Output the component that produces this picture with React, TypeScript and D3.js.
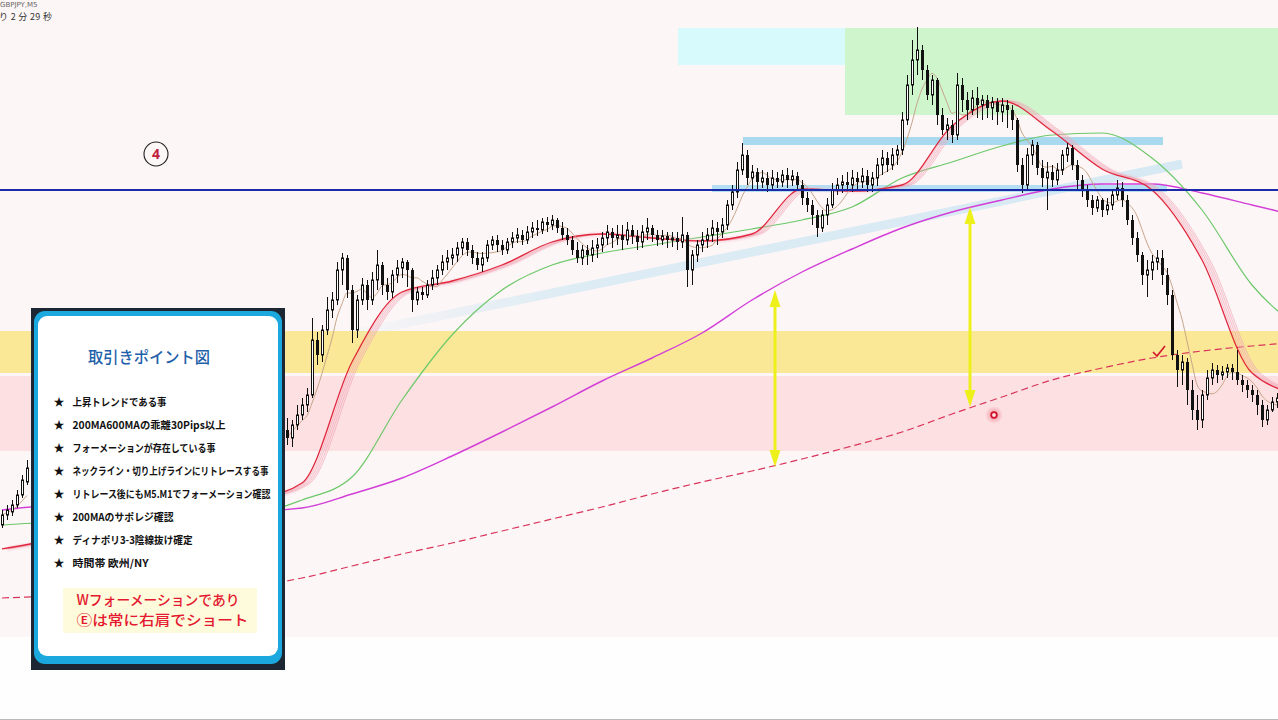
import React from 'react';
import * as d3 from 'd3';

const W = 1278;
const H = 720;

// ---- header texts ----
const SYMBOL_LABEL = 'GBPJPY,M5';
const TIMER_LABEL = 'り 2 分 29 秒';

// ---- candles [open, high, low, close] ----
const LEFT_START = 0;
const leftCandles: number[][] = [
  [141.95, 142.10, 141.92, 142.05], [142.05, 142.15, 142.00, 142.10], [142.08, 142.20, 142.04, 142.15],
  [142.15, 142.30, 142.12, 142.25], [142.25, 142.45, 142.22, 142.40], [142.38, 142.60, 142.35, 142.52],
];

const MAIN_START = 57;
const mainCandles: number[][] = [
  [142.90, 143.02, 142.75, 142.82], [142.82, 143.00, 142.73, 142.95], [142.95, 143.15, 142.90, 143.05],
  [143.05, 143.22, 143.00, 143.15], [143.15, 143.32, 143.08, 143.25], [143.25, 144.02, 143.22, 143.80],
  [143.80, 143.88, 143.55, 143.65], [143.65, 143.95, 143.58, 143.90], [143.90, 144.23, 143.85, 144.10],
  [144.10, 144.28, 144.02, 144.20], [144.20, 144.58, 144.15, 144.50], [144.50, 144.67, 144.35, 144.62],
  [144.62, 144.65, 144.22, 144.30], [144.30, 144.35, 143.77, 143.90], [143.90, 144.25, 143.82, 144.20],
  [144.20, 144.42, 144.15, 144.35], [144.35, 144.40, 144.10, 144.20], [144.20, 144.48, 144.15, 144.40],
  [144.40, 144.70, 144.30, 144.55], [144.55, 144.58, 144.25, 144.35], [144.35, 144.42, 144.20, 144.28],
  [144.28, 144.50, 144.22, 144.45], [144.45, 144.60, 144.37, 144.52], [144.52, 144.62, 144.42, 144.58],
  [144.58, 144.60, 144.33, 144.50], [144.50, 144.52, 144.08, 144.20], [144.20, 144.33, 144.15, 144.28],
  [144.28, 144.33, 144.20, 144.25], [144.25, 144.40, 144.22, 144.35], [144.35, 144.50, 144.30, 144.42],
  [144.42, 144.55, 144.35, 144.50], [144.50, 144.65, 144.45, 144.58], [144.58, 144.70, 144.50, 144.62],
  [144.62, 144.72, 144.55, 144.65], [144.65, 144.78, 144.58, 144.72], [144.72, 144.82, 144.65, 144.78],
  [144.78, 144.82, 144.64, 144.70], [144.70, 144.75, 144.56, 144.62], [144.62, 144.68, 144.50, 144.55],
  [144.55, 144.68, 144.48, 144.62], [144.62, 144.80, 144.58, 144.75], [144.75, 144.84, 144.70, 144.80],
  [144.80, 144.85, 144.68, 144.75], [144.75, 144.80, 144.65, 144.70], [144.70, 144.82, 144.66, 144.78],
  [144.78, 144.88, 144.72, 144.82], [144.82, 144.92, 144.77, 144.85], [144.85, 144.90, 144.75, 144.80],
  [144.80, 144.94, 144.76, 144.88], [144.88, 144.98, 144.82, 144.92], [144.92, 145.00, 144.84, 144.90],
  [144.90, 145.02, 144.86, 144.98], [144.98, 145.03, 144.88, 144.95], [144.95, 145.05, 144.90, 145.00],
  [145.00, 145.02, 144.87, 144.92], [144.92, 144.98, 144.80, 144.85], [144.85, 144.92, 144.75, 144.80],
  [144.80, 144.84, 144.65, 144.70], [144.70, 144.78, 144.57, 144.62], [144.62, 144.75, 144.55, 144.70],
  [144.70, 144.75, 144.55, 144.65], [144.65, 144.80, 144.58, 144.72], [144.72, 144.82, 144.62, 144.75],
  [144.75, 144.88, 144.68, 144.82], [144.82, 144.95, 144.75, 144.88], [144.88, 144.92, 144.72, 144.82],
  [144.82, 144.95, 144.75, 144.85], [144.85, 144.95, 144.70, 144.80], [144.80, 144.98, 144.75, 144.90],
  [144.90, 144.95, 144.76, 144.84], [144.84, 144.90, 144.70, 144.78], [144.78, 144.95, 144.72, 144.88],
  [144.88, 145.02, 144.80, 144.92], [144.92, 144.95, 144.78, 144.85], [144.85, 144.90, 144.74, 144.80],
  [144.80, 144.90, 144.75, 144.84], [144.84, 144.88, 144.72, 144.80], [144.80, 144.88, 144.73, 144.82],
  [144.82, 144.88, 144.70, 144.78], [144.78, 145.03, 144.72, 144.85], [144.85, 144.88, 144.33, 144.50],
  [144.50, 144.70, 144.35, 144.65], [144.65, 144.80, 144.58, 144.75], [144.75, 144.88, 144.68, 144.80],
  [144.80, 144.92, 144.72, 144.85], [144.85, 145.00, 144.78, 144.92], [144.92, 144.98, 144.75, 144.88],
  [144.88, 145.02, 144.82, 144.95], [144.95, 145.20, 144.90, 145.15], [145.15, 145.35, 145.10, 145.28],
  [145.28, 145.58, 145.22, 145.50], [145.50, 145.77, 145.45, 145.65], [145.65, 145.70, 145.35, 145.42],
  [145.42, 145.55, 145.30, 145.48], [145.48, 145.52, 145.30, 145.38], [145.38, 145.50, 145.32, 145.42],
  [145.42, 145.48, 145.28, 145.35], [145.35, 145.50, 145.30, 145.42], [145.42, 145.48, 145.32, 145.38],
  [145.38, 145.50, 145.33, 145.45], [145.45, 145.52, 145.32, 145.40], [145.40, 145.50, 145.34, 145.44],
  [145.44, 145.48, 145.30, 145.35], [145.35, 145.40, 145.15, 145.22], [145.22, 145.28, 145.08, 145.15],
  [145.15, 145.20, 144.95, 145.05], [145.05, 145.10, 144.83, 144.92], [144.92, 145.10, 144.88, 145.05],
  [145.05, 145.22, 144.95, 145.15], [145.15, 145.37, 145.12, 145.30], [145.30, 145.42, 145.25, 145.35],
  [145.35, 145.45, 145.27, 145.38], [145.38, 145.48, 145.30, 145.35], [145.35, 145.50, 145.28, 145.42],
  [145.42, 145.48, 145.30, 145.38], [145.38, 145.52, 145.32, 145.44], [145.44, 145.50, 145.28, 145.35],
  [145.35, 145.48, 145.28, 145.42], [145.42, 145.62, 145.34, 145.55], [145.55, 145.70, 145.45, 145.62],
  [145.62, 145.68, 145.48, 145.55], [145.55, 145.72, 145.50, 145.65], [145.65, 145.75, 145.55, 145.70],
  [145.70, 146.08, 145.65, 146.00], [146.00, 146.45, 145.95, 146.35], [146.35, 146.80, 146.25, 146.60],
  [146.60, 146.93, 146.45, 146.70], [146.70, 146.75, 146.40, 146.50], [146.50, 146.55, 146.20, 146.25],
  [146.25, 146.45, 146.15, 146.40], [146.40, 146.42, 145.95, 146.05], [146.05, 146.12, 145.85, 145.90],
  [145.90, 146.02, 145.80, 145.95], [145.95, 146.00, 145.77, 145.85], [145.85, 146.47, 145.80, 146.35],
  [146.35, 146.42, 146.08, 146.20], [146.20, 146.28, 146.00, 146.10], [146.10, 146.30, 146.05, 146.22],
  [146.22, 146.33, 146.02, 146.15], [146.15, 146.25, 146.00, 146.20], [146.20, 146.25, 146.02, 146.12],
  [146.12, 146.23, 146.00, 146.18], [146.18, 146.22, 145.95, 146.08], [146.08, 146.22, 145.98, 146.15],
  [146.15, 146.20, 145.92, 146.10], [146.10, 146.15, 145.90, 146.00], [146.00, 146.02, 145.48, 145.55],
  [145.55, 145.62, 145.27, 145.35], [145.35, 145.72, 145.30, 145.65], [145.65, 145.80, 145.55, 145.75],
  [145.75, 145.78, 145.45, 145.52], [145.52, 145.60, 145.33, 145.42], [145.42, 145.58, 145.10, 145.48],
  [145.48, 145.55, 145.33, 145.40], [145.40, 145.57, 145.35, 145.50], [145.50, 145.70, 145.45, 145.65],
  [145.65, 145.77, 145.58, 145.72], [145.72, 145.75, 145.50, 145.55], [145.55, 145.60, 145.30, 145.40],
  [145.40, 145.45, 145.23, 145.30], [145.30, 145.35, 145.13, 145.20], [145.20, 145.25, 145.05, 145.12],
  [145.12, 145.24, 145.08, 145.20], [145.20, 145.22, 145.03, 145.10], [145.10, 145.22, 145.05, 145.15],
  [145.15, 145.30, 145.10, 145.25], [145.25, 145.40, 145.20, 145.32], [145.32, 145.38, 145.13, 145.20],
  [145.20, 145.25, 144.95, 145.00], [145.00, 145.05, 144.75, 144.82], [144.82, 144.88, 144.58, 144.65],
  [144.65, 144.68, 144.35, 144.45], [144.45, 144.60, 144.23, 144.50], [144.50, 144.65, 144.40, 144.58],
  [144.58, 144.70, 144.50, 144.62], [144.62, 144.70, 144.35, 144.45], [144.45, 144.52, 144.15, 144.25],
  [144.25, 144.30, 143.60, 143.65], [143.65, 143.70, 143.33, 143.50], [143.50, 143.65, 143.35, 143.58],
  [143.58, 143.62, 143.15, 143.30], [143.30, 143.40, 143.00, 143.10], [143.10, 143.25, 142.90, 143.00],
  [143.00, 143.30, 142.92, 143.25], [143.25, 143.50, 143.20, 143.42], [143.42, 143.57, 143.35, 143.50],
  [143.50, 143.55, 143.37, 143.45], [143.45, 143.54, 143.40, 143.48], [143.48, 143.56, 143.42, 143.52],
  [143.52, 143.56, 143.40, 143.48], [143.48, 143.70, 143.35, 143.40], [143.40, 143.45, 143.28, 143.35],
  [143.35, 143.40, 143.22, 143.30], [143.30, 143.35, 143.18, 143.25], [143.25, 143.30, 143.05, 143.15],
  [143.15, 143.20, 142.93, 143.00], [143.00, 143.15, 142.95, 143.10], [143.10, 143.23, 143.08, 143.18],
  [143.18, 143.27, 143.12, 143.22],
];

// ---- moving averages, sampled every MA_STEP bars from bar 0 ----
const MA_STEP = 10;
const ma200 = [142.10, 142.14, 142.13, 142.11, 142.10, 142.09, 142.12, 142.26, 142.42, 142.64, 142.88, 143.13, 143.39,
  143.62, 143.87, 144.20, 144.48, 144.71, 144.92, 145.08, 145.20, 145.31, 145.36, 145.36, 145.27, 145.15, 145.03];
const ma600 = [141.22, 141.24, 141.26, 141.28, 141.31, 141.34, 141.42, 141.54, 141.66, 141.77, 141.89, 142.01, 142.13,
  142.26, 142.38, 142.49, 142.61, 142.74, 142.88, 143.06, 143.23, 143.40, 143.52, 143.62, 143.69, 143.74, 143.78];
const ma75 = [141.95, 141.98, 142.00, 142.02, 142.04, 142.06, 142.20, 142.43, 143.20, 143.85, 144.30, 144.55, 144.67,
  144.75, 144.83, 144.91, 145.00, 145.13, 145.42, 145.58, 145.74, 145.85, 145.87, 145.62, 145.10, 144.35, 143.90];
const ma20 = [141.71, 141.80, 141.90, 142.00, 142.10, 142.20, 142.37, 143.58, 144.28, 144.39, 144.55, 144.78, 144.86,
  144.82, 144.79, 144.86, 145.31, 145.29, 145.35, 145.94, 146.19, 145.89, 145.51, 145.30, 144.60, 143.47, 143.25];
const FAST_PERIOD = 6;

// ---- levels and zones ----
const necklinePrice = 145.30;
const upperBand = { from: 148.2, to: 232.2, top: 145.83, bottom: 145.75 };
const lowerBand = { from: 142, to: 233, top: 145.35, bottom: 145.28 };
const trendLine = [[71, 143.87], [236, 145.56]];
const yellowZone = { top: 143.89, bottom: 143.47 };
const pinkZone = { top: 143.44, bottom: 142.69 };
const greenZone = { from: 168.6, to: 262, top: 146.92, bottom: 146.05 };
const cyanZone = { from: 135.2, to: 168.6, top: 146.92, bottom: 146.55 };
const arrows = [
  { bar: 154.6, top: 144.30, bottom: 142.53 },
  { bar: 193.6, top: 145.13, bottom: 143.13 },
];
const redDot = { bar: 198.4, price: 143.05 };
const checkMark = { bar: 231.2, price: 143.68 };
const stepLabel = { bar: 30.8, price: 145.66, text: '4' };

// ---- info panel ----
const panelTitle = '取引きポイント図';
const checklist = [
  '上昇トレンドである事',
  '200MA600MAの乖離30Pips以上',
  'フォーメーションが存在している事',
  'ネックライン・切り上げラインにリトレースする事',
  'リトレース後にもM5.M1でフォーメーション確認',
  '200MAのサポレジ確認',
  'ディナポリ3-3陰線抜け確定',
  '時間帯 欧州/NY',
];
const noteLines = ['Wフォーメーションであり', 'Ⓔは常に右肩でショート'];

// layout (pixel widths of the panel lines)
const checklistWidths = [94, 153, 143, 196, 198, 101, 120, 76];
const noteWidths = [163, 172];

const JP = "'Noto Sans CJK JP', 'Noto Sans', sans-serif";

export default function App() {
  const x = d3.scaleLinear().domain([0, 255.2]).range([2, 1278]);
  const y = d3.scaleLinear().domain([140, 147.2]).range([720, 0]);

  const line = d3
    .line<number[]>()
    .x((d) => x(d[0]))
    .y((d) => y(d[1]))
    .curve(d3.curveMonotoneX);
  const pts = (arr: number[]) => arr.map((v, i) => [i * MA_STEP, v]);

  const candles = [
    ...leftCandles.map((c, i) => ({ k: LEFT_START + i, o: c[0], h: c[1], l: c[2], c: c[3] })),
    ...mainCandles.map((c, i) => ({ k: MAIN_START + i, o: c[0], h: c[1], l: c[2], c: c[3] })),
  ];

  const fast = (arr: number[][], start: number) =>
    arr.map((_, i) => [
      start + i,
      d3.mean(arr.slice(Math.max(0, i - FAST_PERIOD + 1), i + 1), (d) => d[3]) as number,
    ]);

  const rectOf = (z: { from?: number; to?: number; top: number; bottom: number }) => ({
    x: z.from !== undefined ? x(z.from) : 0,
    width: z.from !== undefined ? x(z.to as number) - x(z.from) : W,
    y: y(z.top),
    height: y(z.bottom) - y(z.top),
  });

  const ribbonD = line(pts(ma20)) || '';

  return (
    <svg
      width={W}
      height={H}
      style={{ position: 'absolute', left: 0, top: 0, display: 'block' }}
      xmlns="http://www.w3.org/2000/svg"
    >
      <defs>
        <linearGradient id="tlGrad" gradientUnits="userSpaceOnUse" x1={x(trendLine[0][0])} x2={x(trendLine[1][0])} y1="0" y2="0">
          <stop offset="0" stopColor="#c9e5f3" stopOpacity="0.1" />
          <stop offset="0.25" stopColor="#c9e5f3" stopOpacity="0.6" />
          <stop offset="1" stopColor="#c9e5f3" stopOpacity="0.75" />
        </linearGradient>
        <radialGradient id="dotGlow">
          <stop offset="0" stopColor="#f27d90" stopOpacity="0.85" />
          <stop offset="1" stopColor="#f27d90" stopOpacity="0" />
        </radialGradient>
      </defs>

      {/* background */}
      <rect x={0} y={0} width={W} height={H} fill="#fefefe" />
      <rect x={0} y={0} width={W} height={637} fill="#fdf6f6" />
      <line x1={0} x2={W} y1={719.5} y2={719.5} stroke="#b8b8b8" strokeWidth={1} />

      {/* zones */}
      <rect {...rectOf(yellowZone)} fill="#fbe896" />
      <rect {...rectOf(pinkZone)} fill="#fde0e1" />
      <rect {...rectOf(greenZone)} fill="#cff5cd" />
      <rect {...rectOf(cyanZone)} fill="#d7fafc" />

      {/* rising trend line band */}
      <line
        x1={x(trendLine[0][0])}
        y1={y(trendLine[0][1])}
        x2={x(trendLine[1][0])}
        y2={y(trendLine[1][1])}
        stroke="url(#tlGrad)"
        strokeWidth={9}
      />

      {/* horizontal light blue bands */}
      <rect {...rectOf(upperBand)} fill="#a9d9ef" />
      <rect {...rectOf(lowerBand)} fill="#b4def2" />

      {/* moving averages */}
      <path d={line(pts(ma600)) || ''} fill="none" stroke="#d8345a" strokeWidth={1.2} strokeDasharray="7 4" />
      <path d={line(pts(ma200)) || ''} fill="none" stroke="#d23ed8" strokeWidth={1.4} />
      <path d={line(pts(ma75)) || ''} fill="none" stroke="#6cc86a" strokeWidth={1.2} />
      {[2, 4, 6, 8].map((dx) => (
        <path key={dx} d={ribbonD} transform={`translate(${dx},0)`} fill="none" stroke="#ef9aab" strokeWidth={1} strokeOpacity={0.55} />
      ))}
      <path d={ribbonD} transform="translate(5,0)" fill="none" stroke="#f6c0cb" strokeWidth={6} strokeOpacity={0.2} />
      <path d={ribbonD} fill="none" stroke="#e0283e" strokeWidth={1.3} />

      {/* fast MA */}
      <path d={line(fast(leftCandles, LEFT_START)) || ''} fill="none" stroke="#c6a58a" strokeWidth={1} />
      <path d={line(fast(mainCandles, MAIN_START)) || ''} fill="none" stroke="#c6a58a" strokeWidth={1} />

      {/* candles */}
      <g>
        {candles.map((d) => {
          const cx = Math.round(x(d.k)) + 0.5;
          const top = y(Math.max(d.o, d.c));
          const bot = y(Math.min(d.o, d.c));
          const bull = d.c > d.o;
          return (
            <g key={d.k}>
              <line x1={cx} x2={cx} y1={y(d.h)} y2={y(d.l)} stroke="#111" strokeWidth={1} />
              {bull ? (
                <rect x={cx - 1} y={top} width={2} height={Math.max(1, bot - top)} fill="#ffffff" stroke="#111" strokeWidth={1} />
              ) : (
                <rect x={cx - 1.5} y={top} width={3} height={Math.max(1, bot - top)} fill="#111" />
              )}
            </g>
          );
        })}
      </g>

      {/* neckline */}
      <line x1={0} x2={W} y1={y(necklinePrice)} y2={y(necklinePrice)} stroke="#1a2aa8" strokeWidth={2} />

      {/* arrows */}
      {arrows.map((a, i) => {
        const ax = x(a.bar);
        const t = y(a.top);
        const b = y(a.bottom);
        return (
          <g key={i} fill="#eef01c" stroke="none">
            <line x1={ax} x2={ax} y1={t + 10} y2={b - 10} stroke="#eef01c" strokeWidth={3} />
            <path d={`M${ax},${t} L${ax - 5.5},${t + 17} L${ax + 5.5},${t + 17} Z`} />
            <path d={`M${ax},${b} L${ax - 5.5},${b - 17} L${ax + 5.5},${b - 17} Z`} />
          </g>
        );
      })}

      {/* red dot */}
      <circle cx={x(redDot.bar)} cy={y(redDot.price)} r={9} fill="url(#dotGlow)" />
      <circle cx={x(redDot.bar)} cy={y(redDot.price)} r={2.8} fill="#fbe3e6" stroke="#d0102a" strokeWidth={1.8} />

      {/* check mark */}
      {(() => {
        const cx = x(checkMark.bar);
        const cy = y(checkMark.price);
        return (
          <path
            d={`M${cx - 5},${cy} L${cx - 1},${cy + 4} L${cx + 7},${cy - 6}`}
            fill="none"
            stroke="#d2142c"
            strokeWidth={1.6}
          />
        );
      })()}

      {/* circled step number */}
      <circle cx={x(stepLabel.bar)} cy={y(stepLabel.price)} r={12} fill="none" stroke="#222" strokeWidth={1.1} />
      <text
        x={x(stepLabel.bar)}
        y={y(stepLabel.price) + 5}
        textAnchor="middle"
        fontFamily="'Noto Sans', sans-serif"
        fontWeight={700}
        fontSize={14}
        fill="#c0203a"
      >
        {stepLabel.text}
      </text>

      {/* header */}
      <text x={0} y={7} fontFamily="'DejaVu Sans', sans-serif" fontSize={7} fill="#666">
        {SYMBOL_LABEL}
      </text>
      <text x={-1} y={20} fontFamily={JP} fontSize={9} fill="#333" textLength={53} lengthAdjust="spacing">
        {TIMER_LABEL}
      </text>

      {/* info panel */}
      <g>
        <rect x={31} y={308} width={254} height={362} fill="#1c2733" />
        <rect x={34} y={311} width={248} height={353} rx={11} fill="#1aa8de" />
        <rect x={38} y={316} width={240} height={340} rx={9} fill="#ffffff" />
        <text
          x={149}
          y={363}
          textAnchor="middle"
          fontFamily={JP}
          fontSize={16}
          fontWeight={500}
          fill="#1f60aa"
          textLength={122}
          lengthAdjust="spacingAndGlyphs"
        >
          {panelTitle}
        </text>
        {checklist.map((t, i) => (
          <g key={i}>
            <text x={59} y={405.5 + i * 23.1} textAnchor="middle" fontFamily={JP} fontSize={11} fill="#111">
              ★
            </text>
            <text
              x={72.5}
              y={405.5 + i * 23.1}
              fontFamily={JP}
              fontSize={10.5}
              fontWeight={700}
              fill="#111"
              textLength={checklistWidths[i]}
              lengthAdjust="spacingAndGlyphs"
            >
              {t}
            </text>
          </g>
        ))}
        <rect x={63} y={588} width={194} height={45} fill="#fefbdd" />
        {noteLines.map((t, i) => (
          <text
            key={i}
            x={76.5}
            y={605 + i * 20}
            fontFamily={JP}
            fontSize={14}
            fontWeight={500}
            fill="#e4182e"
            textLength={noteWidths[i]}
            lengthAdjust="spacingAndGlyphs"
          >
            {t}
          </text>
        ))}
      </g>
    </svg>
  );
}
